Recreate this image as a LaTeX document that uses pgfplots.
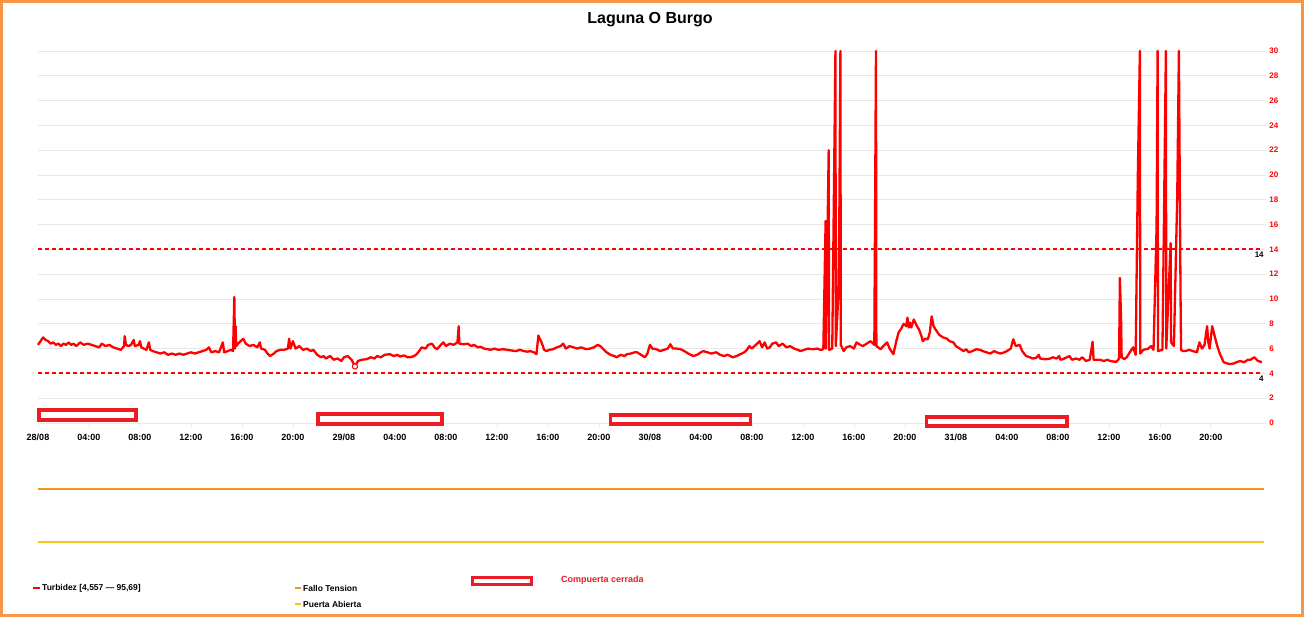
\documentclass[border=0pt]{standalone}
\usepackage{pgfplots}
\usepackage{pgfplotstable}
\pgfplotsset{compat=1.18}
\usepackage{fontspec}
\setmainfont{Liberation Sans}
\definecolor{lnred}{RGB}{255,0,0}
\definecolor{boxred}{RGB}{237,28,36}
\definecolor{frameorange}{RGB}{247,150,70}
\definecolor{failorange}{RGB}{247,148,29}
\definecolor{dooryellow}{RGB}{245,196,30}
\definecolor{gridgray}{RGB}{232,232,232}

\pgfplotstableread{
h v
0.0 6.3
0.2 6.6
0.4 6.9
0.6 6.7
0.8 6.6
1.0 6.4
1.2 6.5
1.4 6.3
1.6 6.4
1.8 6.2
2.0 6.4
2.2 6.3
2.4 6.5
2.6 6.3
2.8 6.4
3.0 6.2
3.3 6.5
3.6 6.3
3.9 6.4
4.2 6.3
4.5 6.2
4.8 6.1
5.0 6.4
5.3 6.2
5.6 6.3
5.9 6.1
6.2 6.0
6.5 5.9
6.75 6.2
6.8 7.0
6.9 6.3
7.1 6.2
7.3 6.3
7.5 6.7
7.6 6.2
7.9 6.3
8.0 6.6
8.1 6.1
8.5 5.9
8.7 6.5
8.8 5.9
9.0 5.8
9.3 5.7
9.6 5.6
9.9 5.7
10.2 5.5
10.5 5.6
10.8 5.5
11.1 5.6
11.4 5.5
11.7 5.6
12.0 5.7
12.3 5.6
12.6 5.7
12.9 5.8
13.2 5.9
13.4 6.1
13.6 5.7
13.9 5.8
14.2 5.7
14.5 6.5
14.6 5.7
14.9 5.8
15.1 5.9
15.3 5.8
15.4 10.16
15.45 6.0
15.5 7.8
15.55 6.2
15.7 6.4
15.9 6.6
16.1 6.8
16.3 6.4
16.6 6.2
16.9 6.3
17.2 6.1
17.4 6.5
17.5 6.0
17.8 5.9
18.0 5.6
18.2 5.4
18.5 5.6
18.7 5.8
19.0 5.9
19.3 5.9
19.6 6.0
19.7 6.8
19.8 6.0
20.0 6.6
20.2 6.0
20.5 6.2
20.8 5.9
21.1 6.0
21.4 5.8
21.6 5.9
21.9 5.5
22.2 5.3
22.4 5.4
22.6 5.2
22.9 5.4
23.2 5.1
23.5 5.2
23.8 5.0
24.0 5.3
24.3 5.4
24.6 5.1
24.86 4.557
25.1 5.0
25.4 5.1
25.8 5.15
26.1 5.3
26.4 5.2
26.6 5.4
26.9 5.3
27.2 5.5
27.6 5.55
27.9 5.4
28.2 5.5
28.4 5.35
28.7 5.45
29.0 5.3
29.2 5.3
29.5 5.4
29.7 5.55
29.9 5.8
30.1 6.1
30.4 6.0
30.6 6.3
30.9 6.4
31.1 6.1
31.3 5.95
31.6 6.3
31.8 6.5
32.0 6.2
32.3 6.4
32.6 6.3
32.9 6.5
33.0 7.8
33.05 6.4
33.4 6.35
33.7 6.4
34.0 6.2
34.2 6.3
34.5 6.1
34.7 6.15
35.0 6.0
35.3 5.95
35.5 5.9
35.8 6.0
36.1 5.9
36.5 5.95
36.8 5.9
37.1 5.85
37.5 5.8
37.8 5.9
38.1 5.8
38.4 5.75
38.6 5.8
38.9 5.7
39.1 5.55
39.25 7.05
39.4 6.7
39.5 6.5
39.7 5.9
39.9 5.8
40.1 5.9
40.4 5.95
40.7 6.1
41.0 6.2
41.2 6.4
41.4 6.0
41.7 6.2
42.0 6.1
42.3 6.0
42.6 6.1
43.0 5.95
43.3 6.0
43.6 6.1
43.9 6.3
44.1 6.2
44.4 5.9
44.6 5.7
44.9 5.5
45.2 5.4
45.4 5.3
45.7 5.5
46.0 5.4
46.2 5.55
46.5 5.6
46.8 5.7
47.0 5.7
47.3 5.5
47.6 5.3
47.8 5.6
48.0 6.3
48.2 6.0
48.5 5.95
48.8 5.8
49.1 5.9
49.4 6.0
49.6 6.35
49.8 6.0
50.1 6.0
50.4 5.95
50.7 5.8
51.0 5.6
51.4 5.4
51.7 5.5
52.0 5.7
52.2 5.8
52.5 5.7
52.8 5.6
53.2 5.7
53.5 5.5
53.8 5.4
54.1 5.5
54.5 5.3
54.8 5.4
55.1 5.55
55.4 5.7
55.6 5.9
55.8 6.2
56.0 6.0
56.3 6.3
56.6 6.6
56.8 6.1
57.0 6.5
57.2 6.0
57.4 6.1
57.6 6.4
57.9 6.5
58.1 6.2
58.4 6.4
58.7 6.1
59.0 6.2
59.3 6.0
59.6 5.9
59.8 5.8
60.1 5.9
60.4 6.0
60.8 5.95
61.1 6.0
61.4 5.9
61.6 5.95
61.78 16.3
61.8 6.0
62.02 22.0
62.05 5.9
62.3 6.0
62.55 60.0
62.58 6.2
62.77 10.2
62.85 15.8
62.94 60.0
62.97 6.3
63.2 5.8
63.4 6.1
63.7 6.2
64.0 6.0
64.2 6.5
64.5 6.3
64.7 6.2
65.0 6.4
65.3 6.6
65.6 6.3
65.73 95.69
65.76 6.2
66.1 5.95
66.3 6.2
66.6 6.5
66.8 6.0
67.1 5.55
67.3 6.5
67.5 7.3
67.7 7.6
67.9 8.0
68.1 7.8
68.2 8.5
68.3 7.7
68.4 8.1
68.5 7.7
68.7 8.35
68.9 7.9
69.1 7.55
69.3 7.0
69.4 6.6
69.6 6.8
69.8 6.75
69.95 7.3
70.1 8.6
70.25 7.8
70.4 7.55
70.7 7.1
71.0 6.9
71.3 6.8
71.5 6.6
71.8 6.5
72.0 6.2
72.3 6.0
72.6 5.8
72.8 5.95
73.0 5.7
73.3 5.8
73.6 5.95
73.9 5.9
74.1 5.8
74.4 5.7
74.7 5.6
75.0 5.8
75.2 5.7
75.5 5.6
75.8 5.7
76.0 5.8
76.3 6.0
76.5 6.75
76.7 6.2
77.0 6.3
77.2 5.8
77.5 5.4
77.8 5.3
78.0 5.2
78.3 5.25
78.5 5.5
78.6 5.2
78.9 5.15
79.1 5.15
79.4 5.2
79.6 5.3
79.9 5.2
80.1 5.4
80.2 5.1
80.4 5.15
80.7 5.3
80.9 5.4
81.1 5.1
81.4 5.2
81.7 5.1
81.9 5.3
82.2 5.0
82.5 5.1
82.72 6.55
82.8 5.1
83.0 5.1
83.3 5.1
83.6 5.0
83.9 5.1
84.1 5.0
84.4 4.95
84.6 4.95
84.8 5.2
84.86 11.7
84.95 8.6
85.0 5.3
85.2 5.15
85.4 5.3
85.7 5.8
85.9 6.1
86.1 5.5
86.27 20.0
86.43 60.0
86.46 5.6
86.7 5.9
86.9 5.95
87.1 6.0
87.3 6.2
87.5 5.9
87.74 15.8
87.82 60.0
87.85 5.8
88.2 5.9
88.47 60.0
88.5 6.0
88.84 14.5
88.88 6.5
89.1 6.2
89.36 18.25
89.49 60.0
89.62 10.2
89.66 5.9
89.8 5.8
90.0 5.8
90.3 5.9
90.6 5.8
90.9 5.7
91.1 6.5
91.3 6.0
91.5 6.3
91.7 7.8
91.8 6.5
91.9 6.0
92.1 7.8
92.3 7.0
92.5 6.2
92.7 5.6
93.0 4.9
93.3 4.8
93.5 4.75
93.8 4.8
94.0 4.9
94.3 5.0
94.6 4.9
94.9 5.1
95.1 5.1
95.4 5.3
95.7 5.0
96.0 4.9
}\turb

\begin{document}
\begin{tikzpicture}[x=1pt,y=1pt]
\useasboundingbox (0,0) rectangle (1304,617);
\fill[white] (0,0) rectangle (1304,617);

\begin{axis}[
  at={(38pt,194pt)}, anchor=south west, scale only axis,
  width=1224pt, height=372pt,
  xmin=0, xmax=96, ymin=0, ymax=30,
  axis line style={draw=none},
  xtick={0,4,...,92},
  xticklabels={28/08,04:00,08:00,12:00,16:00,20:00,29/08,04:00,08:00,12:00,16:00,20:00,30/08,04:00,08:00,12:00,16:00,20:00,31/08,04:00,08:00,12:00,16:00,20:00},
  ytick={0,2,...,30},
  yticklabel pos=right, ytick pos=right, xtick pos=bottom,
  tick align=outside, major tick length=4pt,
  tick style={draw=gridgray, line width=0.8pt},
  ymajorgrids, grid style={draw=gridgray, line width=0.8pt},
  x tick label style={font=\bfseries\fontsize{9}{10}\selectfont, text height=6.5pt, text depth=0pt, yshift=-3pt},
  y tick label style={font=\bfseries\fontsize{8}{9}\selectfont, text=lnred},
  /pgf/number format/assume math mode=true,
  clip=false,
]
\addplot[color=lnred, line width=2.3pt, line join=round, restrict y to domain*=0:30] table[x=h, y=v] {\turb};
\addplot[draw=lnred, dash pattern=on 4pt off 3pt, line width=1.5pt] coordinates {(0,14.03) (96,14.03)};
\addplot[draw=lnred, dash pattern=on 4pt off 3pt, line width=1.5pt] coordinates {(0,4.03) (96,4.03)};
\addplot[only marks, mark=*, mark size=2.6pt, mark options={fill=white, draw=lnred, line width=1pt}] coordinates {(24.86,4.557)};
\draw[boxred, line width=3.5pt, fill=white] (axis cs:0.06,0.23) rectangle (axis cs:7.70,1.06);
\draw[boxred, line width=3.5pt, fill=white] (axis cs:21.95,-0.10) rectangle (axis cs:31.70,0.74);
\draw[boxred, line width=3.5pt, fill=white] (axis cs:44.90,-0.10) rectangle (axis cs:55.90,0.66);
\draw[boxred, line width=3.5pt, fill=white] (axis cs:69.70,-0.26) rectangle (axis cs:80.70,0.50);
\node[anchor=north east, inner sep=1pt, font=\bfseries\fontsize{8}{9}\selectfont, xshift=3pt, yshift=-1pt] at (axis cs:96,14) {14};
\node[anchor=north east, inner sep=1pt, font=\bfseries\fontsize{8}{9}\selectfont, xshift=3pt, yshift=-1pt] at (axis cs:96,4) {4};
\end{axis}

\begin{axis}[
  at={(38pt,128pt)}, anchor=west, scale only axis,
  width=1226pt, height=20pt,
  xmin=0, xmax=96, ymin=-1, ymax=1, hide axis,
]
\addplot[color=failorange, line width=2.5pt] coordinates {(0,0) (96,0)};
\end{axis}

\begin{axis}[
  at={(38pt,75pt)}, anchor=west, scale only axis,
  width=1226pt, height=20pt,
  xmin=0, xmax=96, ymin=-1, ymax=1, hide axis,
]
\addplot[color=dooryellow, line width=2.5pt] coordinates {(0,0) (96,0)};
\end{axis}

\node[font=\bfseries\fontsize{16}{18}\selectfont] at (650,597) {Laguna O Burgo};

\draw[lnred, line width=2pt] (33,29) -- (40,29);
\node[anchor=west, inner sep=0pt, font=\bfseries\fontsize{8.5}{10}\selectfont] at (42,29) {Turbidez [4,557 — 95,69]};
\draw[failorange, line width=2pt] (295,29) -- (301,29);
\node[anchor=west, inner sep=0pt, font=\bfseries\fontsize{8.5}{10}\selectfont] at (303,29) {Fallo Tension};
\draw[dooryellow, line width=2pt] (295,13) -- (301,13);
\node[anchor=west, inner sep=0pt, font=\bfseries\fontsize{8.5}{10}\selectfont] at (303,13) {Puerta Abierta};
\draw[boxred, line width=3pt] (472.5,32.5) rectangle (531.5,39.5);
\node[anchor=west, inner sep=0pt, text=boxred, font=\bfseries\fontsize{9}{10}\selectfont] at (561,37) {Compuerta cerrada};

\draw[frameorange, line width=3pt] (1.5,1.5) rectangle (1302.5,615.5);
\end{tikzpicture}
\end{document}
